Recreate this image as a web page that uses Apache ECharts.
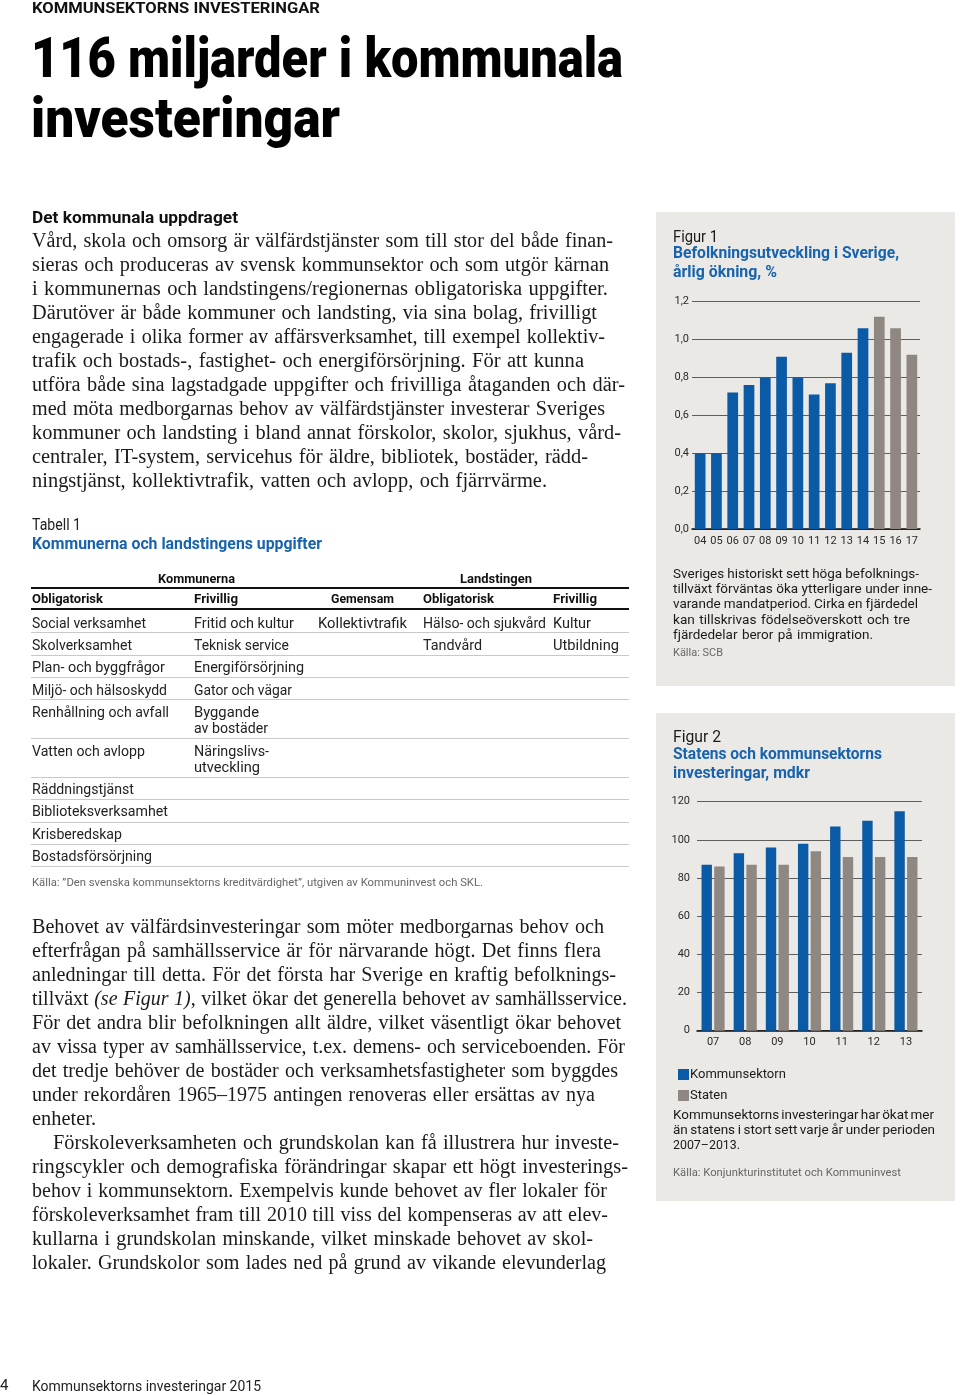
<!DOCTYPE html>
<html><head><meta charset="utf-8">
<script src="https://cdn.jsdelivr.net/npm/echarts@6/dist/echarts.min.js"></script>
<style>
html,body{margin:0;padding:0;background:#fff;}
#page{position:relative;width:960px;height:1395px;overflow:hidden;background:#fff;}
.panel{position:absolute;background:#ebe9e5;z-index:0;}
#chart{position:absolute;left:0;top:0;width:960px;height:1395px;z-index:1;}
.t{position:absolute;white-space:nowrap;z-index:2;transform-origin:0 50%;line-height:1;}
.rule{position:absolute;z-index:2;}
</style></head>
<body><div id="page">
<div class="panel" style="left:656px;top:212px;width:299px;height:474px"></div>
<div class="panel" style="left:656px;top:713px;width:299px;height:488px"></div>
<div id="chart"></div>
</div>
<script>
// ---------- DATA ----------
const fig1Years = ['04','05','06','07','08','09','10','11','12','13','14','15','16','17'];
const fig1Growth = [0.40,0.40,0.72,0.76,0.80,0.91,0.80,0.71,0.77,0.93,1.06,1.12,1.06,0.92];
const fig1FirstForecastYear = '15';
const fig2Years = ['07','08','09','10','11','12','13'];
const fig2Kommunsektorn = [87,93,96,98,107,110,115];
const fig2Staten = [86,87,87,94,91,91,91];
const fig2SeriesNames = ['Kommunsektorn','Staten'];

// ---------- TEXT CONTENT ----------
const para1 = [
 'Vård, skola och omsorg är välfärdstjänster som till stor del både finan-',
 'sieras och produceras av svensk kommunsektor och som utgör kärnan',
 'i kommunernas och landstingens/regionernas obligatoriska uppgifter.',
 'Därutöver är både kommuner och landsting, via sina bolag, frivilligt',
 'engagerade i olika former av affärsverksamhet, till exempel kollektiv-',
 'trafik och bostads-, fastighet- och energiförsörjning. För att kunna',
 'utföra både sina lagstadgade uppgifter och frivilliga åtaganden och där-',
 'med möta medborgarnas behov av välfärdstjänster investerar Sveriges',
 'kommuner och landsting i bland annat förskolor, skolor, sjukhus, vård-',
 'centraler, IT-system, servicehus för äldre, bibliotek, bostäder, rädd-',
 'ningstjänst, kollektivtrafik, vatten och avlopp, och fjärrvärme.'
];
const para1W = [581,577,576,565,573,552,593,573,589,556,515];
const para2 = [
 'Behovet av välfärdsinvesteringar som möter medborgarnas behov och',
 'efterfrågan på samhällsservice är för närvarande högt. Det finns flera',
 'anledningar till detta. För det första har Sverige en kraftig befolknings-',
 'tillväxt <i>(se Figur 1)</i>, vilket ökar det generella behovet av samhällsservice.',
 'För det andra blir befolkningen allt äldre, vilket väsentligt ökar behovet',
 'av vissa typer av samhällsservice, t.ex. demens- och serviceboenden. För',
 'det tredje behöver de bostäder och verksamhetsfastigheter som byggdes',
 'under rekordåren 1965–1975 antingen renoveras eller ersättas av nya',
 'enheter.',
 'Förskoleverksamheten och grundskolan kan få illustrera hur investe-',
 'ringscykler och demografiska förändringar skapar ett högt investerings-',
 'behov i kommunsektorn. Exempelvis kunde behovet av fler lokaler för',
 'förskoleverksamhet fram till 2010 till viss del kompenseras av att elev-',
 'kullarna i grundskolan minskande, vilket minskade behovet av skol-',
 'lokaler. Grundskolor som lades ned på grund av vikande elevunderlag'
];
const para2W = [572,569,584,595,589,593,586,563,64,566,596,575,576,561,574];

const tableRows = [
 ['Social verksamhet','Fritid och kultur','Kollektivtrafik','Hälso- och sjukvård','Kultur'],
 ['Skolverksamhet','Teknisk service','','Tandvård','Utbildning'],
 ['Plan- och byggfrågor','Energiförsörjning','','',''],
 ['Miljö- och hälsoskydd','Gator och vägar','','',''],
 ['Renhållning och avfall','Byggande\nav bostäder','','',''],
 ['Vatten och avlopp','Näringslivs-\nutveckling','','',''],
 ['Räddningstjänst','','','',''],
 ['Biblioteksverksamhet','','','',''],
 ['Krisberedskap','','','',''],
 ['Bostadsförsörjning','','','','']
];
const tableHeads = ['Obligatorisk','Frivillig','Gemensam','Obligatorisk','Frivillig'];

// ---------- LAYOUT HELPERS ----------
const SANS = 'Roboto, "Open Sans", "Liberation Sans", sans-serif';
const SERIF = '"Liberation Serif", "DejaVu Serif", serif';
const BLUE = '#0b5aa6', GREY = '#8f8782', TBLUE = '#1763ad';
const page = document.getElementById('page');
const fitList = [];
function T(html, x, base, size, o) {
  o = o || {};
  const d = document.createElement('div');
  d.className = 't';
  d.innerHTML = html;
  d.style.left = x + 'px';
  d.style.top = (base - 0.84 * size) + 'px';
  d.style.fontSize = size + 'px';
  d.style.fontFamily = o.font || SANS;
  d.style.fontWeight = o.weight || 400;
  d.style.color = o.color || '#1a1a1a';
  page.appendChild(d);
  if (o.w) fitList.push([d, o.w, !!o.ws]);
  return d;
}
function R(x, y, w, h, c) {
  const d = document.createElement('div');
  d.className = 'rule';
  d.style.cssText += `left:${x}px;top:${y}px;width:${w}px;height:${h}px;background:${c}`;
  page.appendChild(d);
}

// header
T('KOMMUNSEKTORNS INVESTERINGAR', 32, 14.5, 15.5, {weight:700, color:'#111', w:288});
T('116 miljarder i kommunala', 31, 77, 56, {weight:900, color:'#000', w:592});
T('investeringar', 31, 137, 56, {weight:900, color:'#000', w:309});

// paragraph 1
T('Det kommunala uppdraget', 32, 223, 17, {weight:700, color:'#111', w:206});
para1.forEach((s,i)=>T(s, 32, 246.7 + 24*i, 20, {font:SERIF, w:para1W[i], ws:true}));

// table
T('Tabell 1', 32, 530, 16, {color:'#222', w:49});
T('Kommunerna och landstingens uppgifter', 32, 549, 16, {weight:700, color:TBLUE, w:290});
T('Kommunerna', 158, 583, 12, {weight:700, color:'#111', w:77});
T('Landstingen', 460, 583, 12, {weight:700, color:'#111', w:72});
R(31, 587, 598, 2.2, '#111');
R(31, 608, 598, 2.2, '#111');
const colX = [32, 194, 318, 423, 553];
const headX = [32, 194, 331, 423, 553];
const headW = [71, 44, 63, 71, 44];
tableHeads.forEach((h,i)=>T(h, headX[i], 603.5, 12, {weight:700, color:'#111', w:headW[i]}));
const rowBase = [627.5, 649.5, 672, 694.3, 716.5, 755.3, 793.8, 816.2, 838.6, 861];
const sepY = [632, 654.5, 676.7, 699, 738.3, 776.7, 799, 821.7, 844, 866];
const cellW = {
 'Social verksamhet':114,'Fritid och kultur':100,'Kollektivtrafik':89,'Hälso- och sjukvård':123,'Kultur':38,
 'Skolverksamhet':100,'Teknisk service':95,'Tandvård':59,'Utbildning':66,'Plan- och byggfrågor':133,
 'Energiförsörjning':110,'Miljö- och hälsoskydd':135,'Gator och vägar':98,'Renhållning och avfall':137,
 'Byggande':65,'av bostäder':74,'Vatten och avlopp':113,'Näringslivs-':75,'utveckling':66,
 'Räddningstjänst':102,'Biblioteksverksamhet':136,'Krisberedskap':90,'Bostadsförsörjning':120
};
tableRows.forEach((row,r)=>{
  row.forEach((cell,c)=>{
    if(!cell) return;
    cell.split('\n').forEach((ln,k)=>T(ln, colX[c], rowBase[r] + 16.7*k, 14, {color:'#222', w:cellW[ln]}));
  });
  R(31, sepY[r], 598, 1, '#c9c9c9');
});
T('Källa: ”Den svenska kommunsektorns kreditvärdighet”, utgiven av Kommuninvest och SKL.', 32, 886, 11, {color:'#666', w:451});

// paragraph 2
para2.forEach((s,i)=>T(s, i===9 ? 53 : 32, 932.3 + 24*i, 20, {font:SERIF, w:para2W[i], ws:i!==8}));

// footer
T('4', 0, 1390.5, 15, {color:'#222'});
T('Kommunsektorns investeringar 2015', 32, 1390.5, 14, {color:'#222', w:229});

// panel 1 texts
T('Figur 1', 673, 242.7, 16, {color:'#1a1a1a', w:45});
T('Befolkningsutveckling i Sverige,', 673, 259.2, 16.5, {weight:700, color:TBLUE, w:226});
T('årlig ökning, %', 673, 277.4, 16.5, {weight:700, color:TBLUE, w:104});
const note1 = ['Sveriges historiskt sett höga befolknings-','tillväxt förväntas öka ytterligare under inne-','varande mandatperiod. Cirka en fjärdedel','kan tillskrivas födelseöverskott och tre','fjärdedelar beror på immigration.'];
const note1W = [246, 259, 245, 237, 200];
note1.forEach((s,i)=>T(s, 673, 578.3 + 15.25*i, 13.5, {color:'#1a1a1a', w:note1W[i], ws:true}));
T('Källa: SCB', 673, 656.7, 11, {color:'#666', w:50});

// panel 2 texts
T('Figur 2', 673, 742.7, 16, {color:'#1a1a1a', w:48});
T('Statens och kommunsektorns', 673, 759.5, 16.5, {weight:700, color:TBLUE, w:209});
T('investeringar, mdkr', 673, 778.5, 16.5, {weight:700, color:TBLUE, w:137});
const note2 = ['Kommunsektorns investeringar har ökat mer','än statens i stort sett varje år under perioden','2007–2013.'];
const note2W = [261, 262, 67];
note2.forEach((s,i)=>T(s, 673, 1119.5 + 15*i, 13.5, {color:'#1a1a1a', w:note2W[i], ws:i<2}));
T('Källa: Konjunkturinstitutet och Kommuninvest', 673, 1176, 11, {color:'#666', w:228});

function fitAll(){
  fitList.forEach(([d,w,ws])=>{
    d.style.transform='none'; d.style.wordSpacing='0px';
    let nat = d.getBoundingClientRect().width;
    const spaces = (d.textContent.match(/ /g)||[]).length;
    if (ws && spaces>0) {
      let s = (w - nat)/spaces;
      s = Math.max(-1.2, Math.min(1.2, s));
      d.style.wordSpacing = s + 'px';
      nat = d.getBoundingClientRect().width;
    }
    d.style.transform = 'scaleX(' + (w/nat) + ')';
  });
}
fitAll();
if (document.fonts && document.fonts.ready) document.fonts.ready.then(fitAll);

// ---------- CHARTS ----------
const chart = echarts.init(document.getElementById('chart'), null, {renderer:'canvas'});
const firstForecastIdx = fig1Years.indexOf(fig1FirstForecastYear);
const axisLabelStyle = {color:'#2a2a2a', fontSize:11, fontFamily:SANS};
chart.setOption({
  backgroundColor:'transparent',
  animation:false,
  legend:{
    data:fig2SeriesNames, orient:'vertical', left:673, top:1063,
    itemWidth:11, itemHeight:11, itemGap:8, icon:'rect',
    textStyle:{color:'#1a1a1a', fontSize:13, fontFamily:SANS, lineHeight:13, padding:[0,0,0,-4]}
  },
  grid:[
    {left:692, top:301.7, width:228, height:227.3, containLabel:false},
    {left:697, top:801.7, width:225, height:229, containLabel:false}
  ],
  xAxis:[
    {gridIndex:0, type:'category', data:fig1Years, boundaryGap:true,
     axisLine:{lineStyle:{color:'#111', width:1.5}}, axisTick:{show:false},
     axisLabel:Object.assign({interval:0, margin:6.5}, axisLabelStyle), splitLine:{show:false}},
    {gridIndex:1, type:'category', data:fig2Years, boundaryGap:true,
     axisLine:{lineStyle:{color:'#111', width:1.5}}, axisTick:{show:false},
     axisLabel:Object.assign({interval:0, margin:6}, axisLabelStyle), splitLine:{show:false}}
  ],
  yAxis:[
    {gridIndex:0, type:'value', min:0, max:1.2, interval:0.2,
     axisLine:{show:false}, axisTick:{show:false},
     axisLabel:Object.assign({margin:3, formatter:v=>v.toFixed(1).replace('.',',')}, axisLabelStyle),
     splitLine:{lineStyle:{color:'#5e5e5e', width:1}}},
    {gridIndex:1, type:'value', min:0, max:120, interval:20,
     axisLine:{show:false}, axisTick:{show:false},
     axisLabel:Object.assign({margin:7}, axisLabelStyle),
     splitLine:{lineStyle:{color:'#5e5e5e', width:1}}}
  ],
  series:[
    {type:'bar', xAxisIndex:0, yAxisIndex:0, barWidth:10.7,
     data:fig1Growth.map((v,i)=>({value:v, itemStyle:{color: i>=firstForecastIdx ? GREY : BLUE}})),
     z:3},
    {name:fig2SeriesNames[0], type:'bar', xAxisIndex:1, yAxisIndex:1, barWidth:10.4, barGap:'22%',
     itemStyle:{color:BLUE}, data:fig2Kommunsektorn, z:3},
    {name:fig2SeriesNames[1], type:'bar', xAxisIndex:1, yAxisIndex:1, barWidth:10.4, barGap:'22%',
     itemStyle:{color:GREY}, data:fig2Staten, z:3}
  ]
});
</script>
</body></html>
